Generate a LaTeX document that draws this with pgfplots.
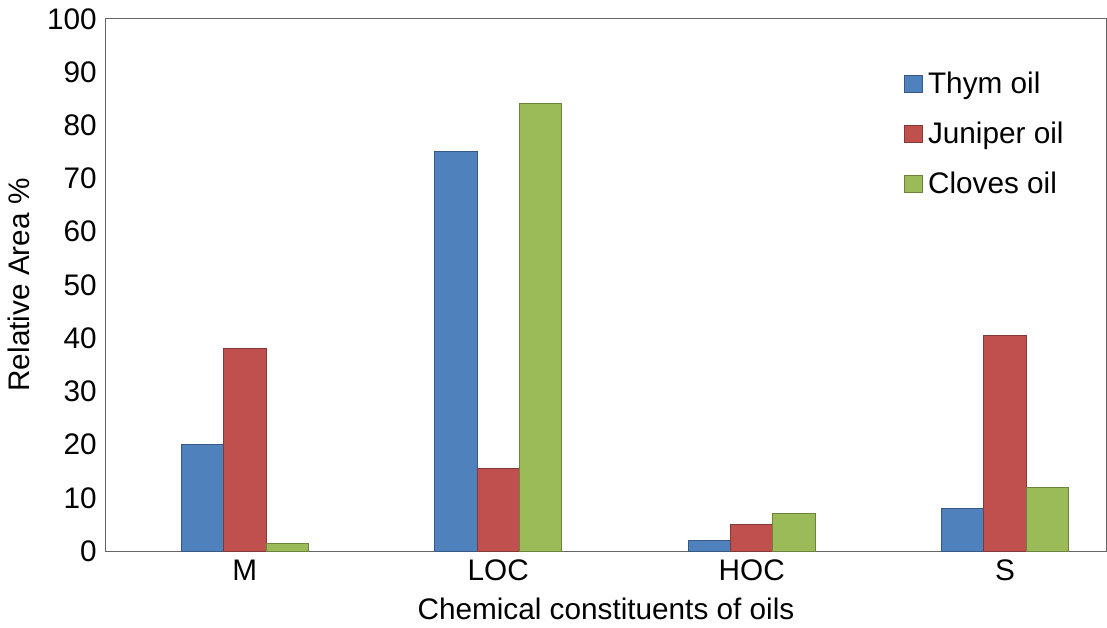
\documentclass[border=0pt]{standalone}
\usepackage{pgfplots}
\pgfplotsset{compat=1.18}
\usepackage{fontspec}
\setmainfont{Liberation Sans}
\definecolor{cb}{HTML}{4F81BD}
\definecolor{cr}{HTML}{C0504D}
\definecolor{cg}{HTML}{9BBB59}
\begin{document}
\begin{tikzpicture}
\begin{axis}[
  scale only axis, width=14.2cm, height=7.55cm,
  ybar=0pt, bar width=0.6cm,
  ymin=0, ymax=100, ytick={0,10,...,100},
  xmin=-0.55, xmax=3.4,
  xtick={0,1,2,3}, xticklabels={M,LOC,HOC,S},
  major tick length=0pt,
  ticklabel style={font=\large},
  /pgf/number format/assume math mode=true,
  xlabel={Chemical constituents of oils}, ylabel={Relative Area \%},
  label style={font=\large},
  axis line style={black!60},
  legend cell align=left,
  legend style={draw=none, at={(0.97,0.92)}, anchor=north east, font=\large, row sep=6pt},
  legend image code/.code={\fill[#1] (0cm,-0.12cm) rectangle (0.25cm,0.13cm);},
]
\addplot[fill=cb, draw=cb!70!black] coordinates {(0,20) (1,75) (2,2) (3,8)};
\addplot[fill=cr, draw=cr!70!black] coordinates {(0,38) (1,15.5) (2,5) (3,40.5)};
\addplot[fill=cg, draw=cg!70!black] coordinates {(0,1.5) (1,84) (2,7) (3,12)};
\legend{Thym oil, Juniper oil, Cloves oil}
\end{axis}
\end{tikzpicture}
\end{document}
